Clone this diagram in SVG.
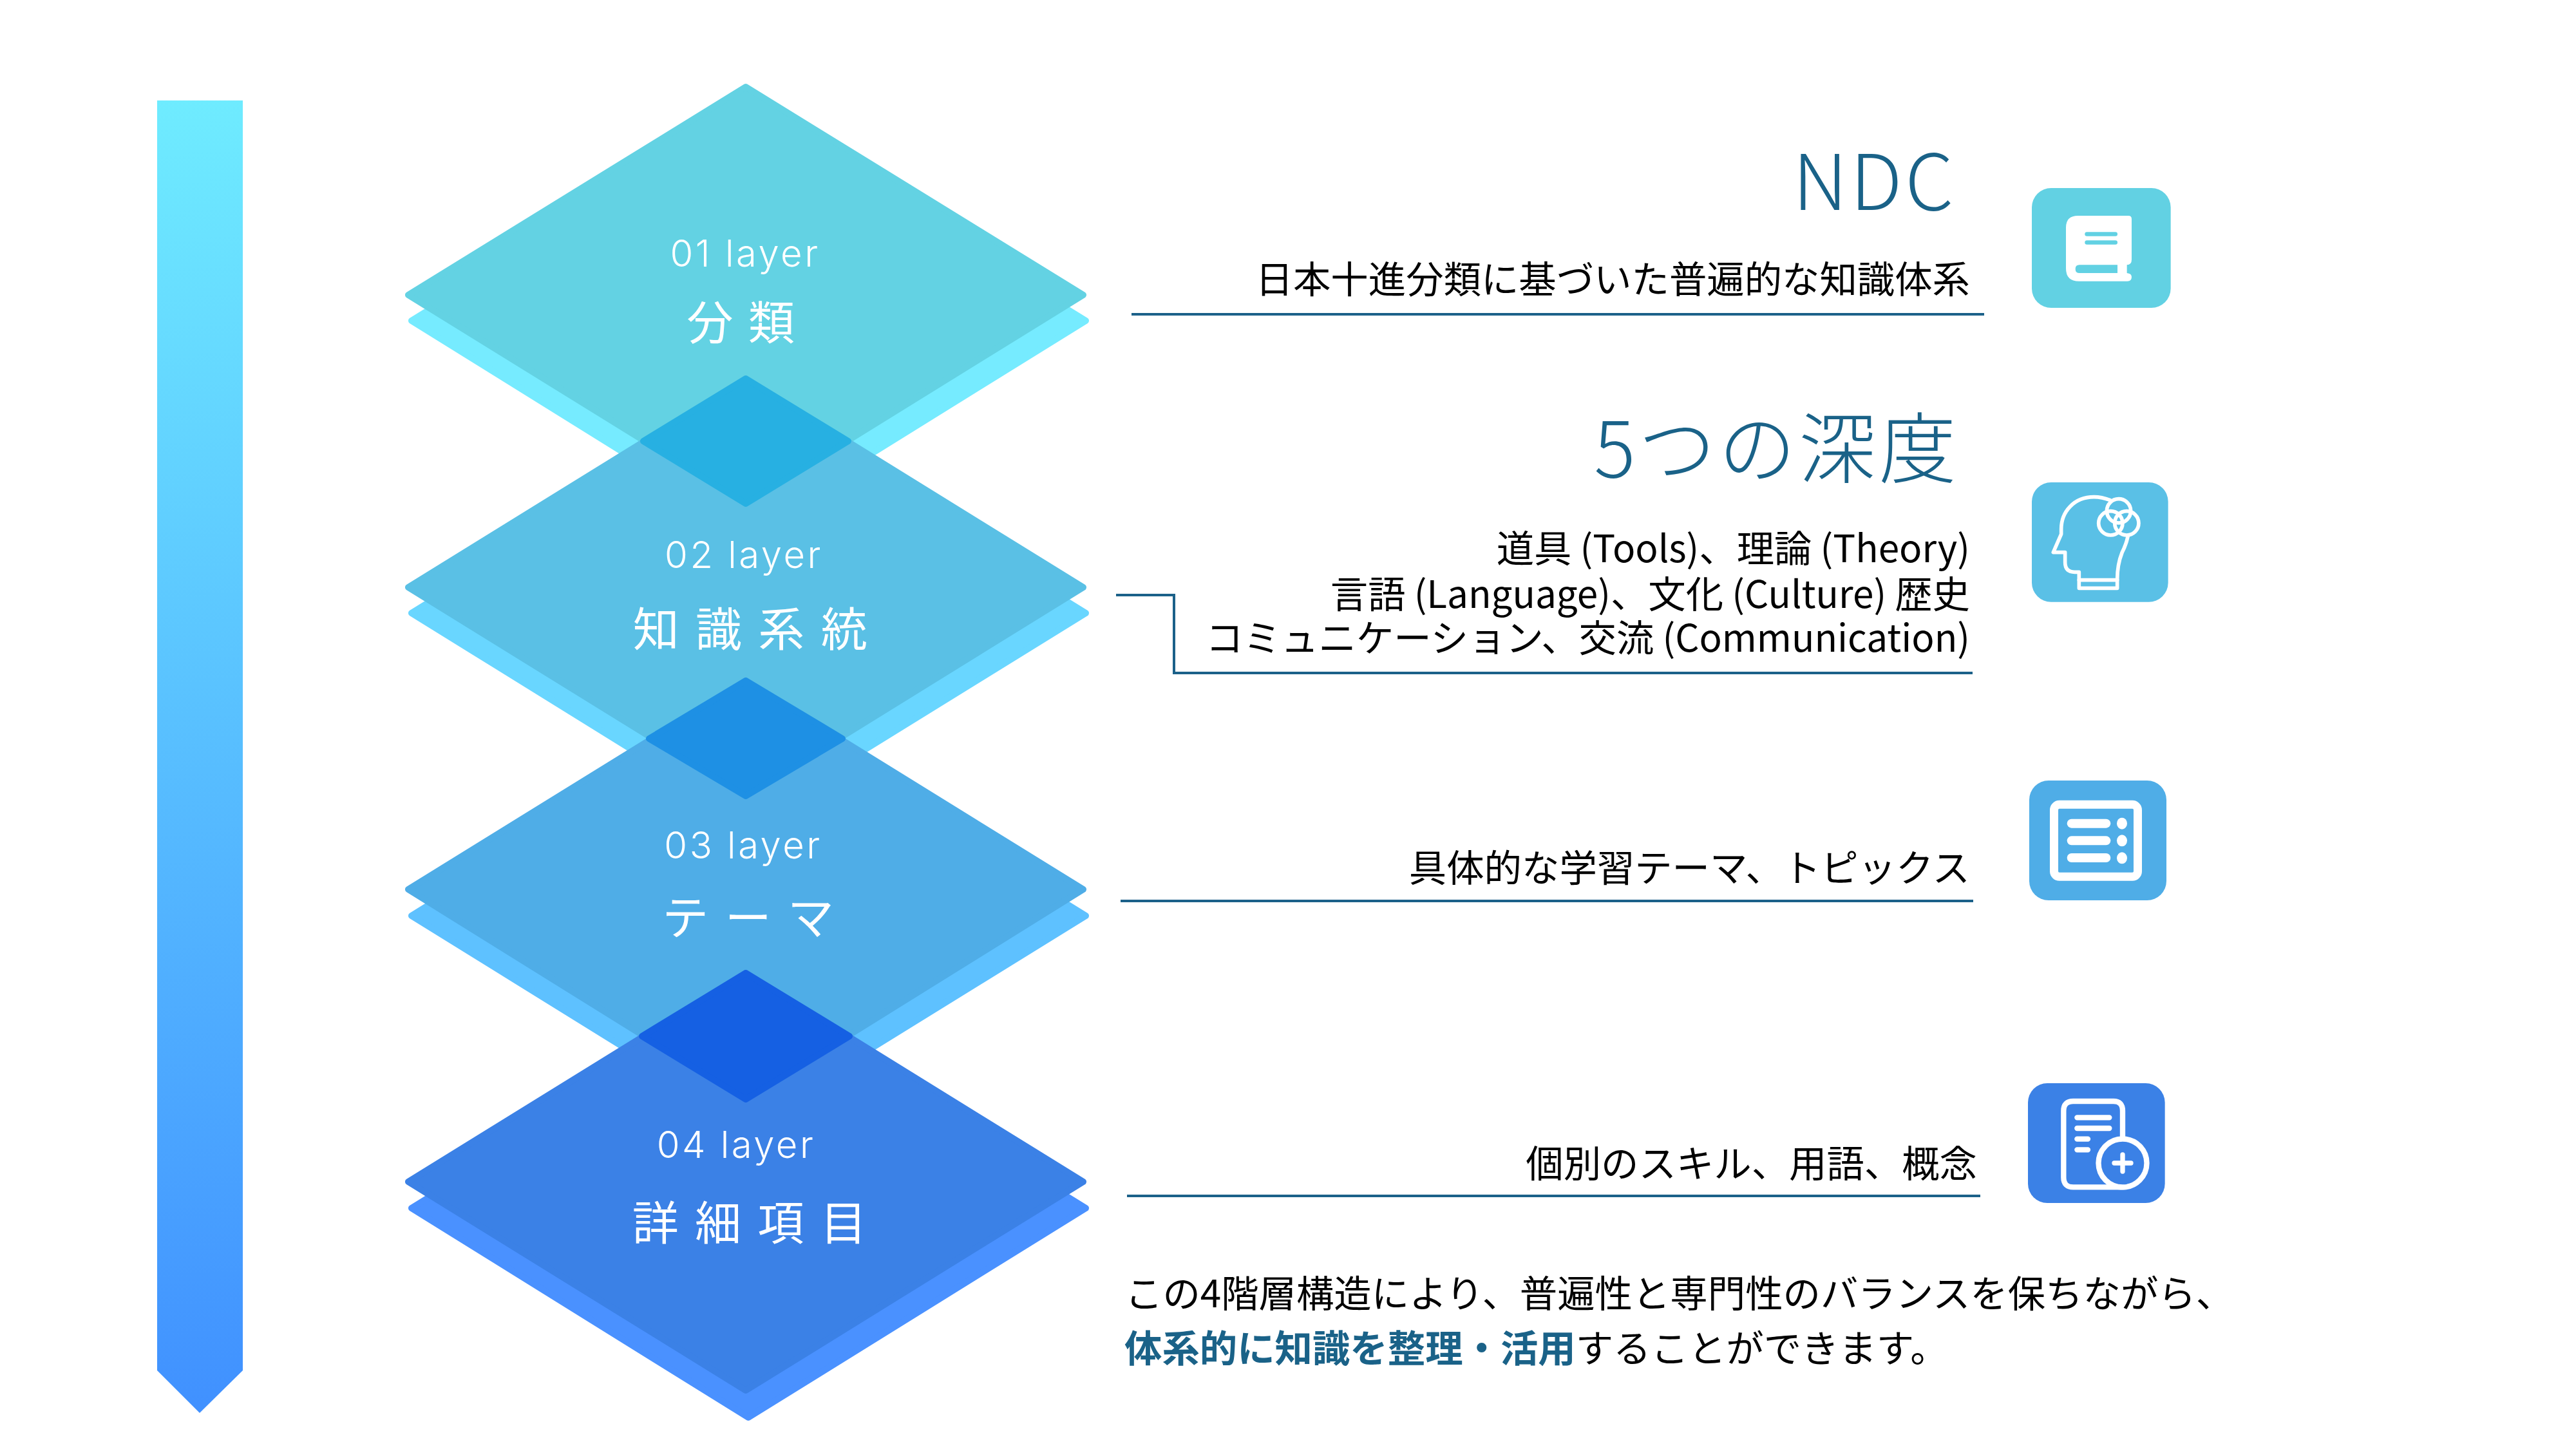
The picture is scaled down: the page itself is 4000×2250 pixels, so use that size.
<svg xmlns="http://www.w3.org/2000/svg" width="4000" height="2250" viewBox="0 0 4000 2250">
<style>
text{font-family:"Noto Sans CJK JP","Noto Sans",sans-serif}
.lay{font-family:Inter,"Noto Sans",sans-serif;font-weight:300;font-size:58px;fill:#fff;text-anchor:middle;letter-spacing:3.500px}
.nm{font-size:72px;fill:#fff;text-anchor:middle;font-weight:400}
.ttl{font-size:120px;fill:#1A6288;text-anchor:end;font-weight:300;letter-spacing:4.500px}
.sub{font-size:58.400px;fill:#000;text-anchor:end;font-weight:400}
.par{font-size:58.400px;fill:#000}
.hl{fill:#1A6288;font-weight:700}
.ln{fill:none;stroke:#1C6189;stroke-width:4}
.dm{stroke-width:10;stroke-linejoin:round}
.w{fill:#fff}
.st{fill:none;stroke:#fff;stroke-linecap:round;stroke-linejoin:round}
</style>
<defs>
<linearGradient id="ag" gradientUnits="userSpaceOnUse" x1="200" y1="156" x2="420" y2="2194">
<stop offset="0" stop-color="#6FECFF"/><stop offset="1" stop-color="#4090FF"/>
</linearGradient>
</defs>
<g id="depth-arrow"><polygon points="244,156 377,156 377,2128 310,2194 244,2128" fill="url(#ag)"/></g>
<g id="layer-shadows">
<polygon class="dm" fill="#76EBFF" stroke="#76EBFF" points="1162,175 1686,498 1162,823 639,498"/>
<polygon class="dm" fill="#69D6FF" stroke="#69D6FF" points="1162,628 1686,952 1162,1276 639,952"/>
<polygon class="dm" fill="#5EC1FF" stroke="#5EC1FF" points="1162,1097 1686,1422 1162,1746 639,1422"/>
<polygon class="dm" fill="#4A91FF" stroke="#4A91FF" points="1162,1552 1686,1876 1162,2201 639,1876"/>
</g>
<g id="layer-01">
<polygon class="dm" fill="#63D2E3" stroke="#63D2E3" points="1158,135 1682,458 1158,782 634,458"/>
<text class="lay" x="1157" y="414">01 layer</text>
<text class="nm" x="1152" y="527" letter-spacing="3.6">分 類</text>
</g>
<g id="layer-02">
<polygon class="dm" fill="#5AC0E5" stroke="#5AC0E5" points="1158,588 1682,912 1158,1236 634,912"/>
<text class="lay" x="1155" y="882">02 layer</text>
<text class="nm" x="1167" y="1003" letter-spacing="4.6">知 識 系 統</text>
</g>
<g id="layer-03">
<polygon class="dm" fill="#4FADE7" stroke="#4FADE7" points="1158,1057 1682,1381 1158,1707 634,1381"/>
<text class="lay" x="1154" y="1333">03 layer</text>
<text class="nm" x="1164" y="1451" letter-spacing="4.6">テ ー マ</text>
</g>
<g id="layer-04">
<polygon class="dm" fill="#3B81E6" stroke="#3B81E6" points="1158,1511 1682,1835 1158,2159 634,1835"/>
<text class="lay" x="1143" y="1798">04 layer</text>
<text class="nm" x="1166" y="1925" letter-spacing="4.6">詳 細 項 目</text>
</g>
<g id="overlaps">
<polygon class="dm" fill="#27B0E2" stroke="#27B0E2" points="1158,588 1317,685 1158,782 999,685"/>
<polygon class="dm" fill="#1E90E4" stroke="#1E90E4" points="1158,1057 1308,1147 1158,1236 1008,1147"/>
<polygon class="dm" fill="#1560E3" stroke="#1560E3" points="1158,1511 1319,1609 1158,1707 997,1609"/>
</g>
<g id="connectors">
<line class="ln" x1="1757" y1="488" x2="3081" y2="488"/>
<polyline class="ln" points="1733,924 1823,924 1823,1045 3063,1045"/>
<line class="ln" x1="1740" y1="1399" x2="3064" y2="1399"/>
<line class="ln" x1="1750" y1="1857" x2="3075" y2="1857"/>
</g>
<g id="desc-01">
<text class="ttl" x="3038" y="326">NDC</text>
<text class="sub" x="3059" y="455">日本十進分類に基づいた普遍的な知識体系</text>
</g>
<g id="desc-02">
<text class="ttl" x="3042" y="741">5つの深度</text>
<text class="sub" x="3059" y="873">道具 (Tools)、理論 (Theory)</text>
<text class="sub" x="3059" y="944">言語 (Language)、文化 (Culture) 歴史</text>
<text class="sub" x="3059" y="1012">コミュニケーション、交流 (Communication)</text>
</g>
<g id="desc-03"><text class="sub" x="3059" y="1369">具体的な学習テーマ、トピックス</text></g>
<g id="desc-04"><text class="sub" x="3070" y="1828">個別のスキル、用語、概念</text></g>
<g id="summary">
<text class="par" x="1747" y="2030">この4階層構造により、普遍性と専門性のバランスを保ちながら、</text>
<text class="par" x="1746" y="2115"><tspan class="hl">体系的に知識を整理・活用</tspan>することができます。</text>
</g>
<g id="icon-book" transform="translate(3120 270) scale(.33333)">
<rect x="105" y="66" width="647" height="558" rx="90" fill="#62D1E3"/>
<path class="w" d="M320,195H555Q570,195 570,210V400Q570,424 548,424V462Q570,464 570,480Q570,500 550,500H325Q264,500 264,440V250Q264,195 320,195Z"/>
<path fill="#62D1E3" d="M327,424H504V462H327Q308,462 308,443Q308,424 327,424Z"/>
<rect x="352" y="271" width="152" height="19" rx="9.500" fill="#62D1E3"/>
<rect x="352" y="310" width="152" height="19" rx="9.500" fill="#62D1E3"/>
</g>
<g id="icon-head" transform="translate(3120 730) scale(.33333)">
<rect x="105" y="57" width="635" height="557" rx="90" fill="#5AC0E6"/>
<g class="st" stroke-width="17">
<path d="M470,140Q430,125 395,125C300,125 242,195 242,275V298L205,383H260V430Q260,475 305,475H325V550H503V510Q503,440 525,385Q545,345 552,310"/>
<path d="M325,512H503"/>
<circle cx="510" cy="190" r="56"/><circle cx="472" cy="247" r="56"/><circle cx="547" cy="247" r="56"/>
</g>
</g>
<g id="icon-list" transform="translate(3120 1190) scale(.33333)">
<rect x="93" y="66" width="639" height="558" rx="90" fill="#4FADE7"/>
<rect x="208.500" y="178" width="390" height="336" rx="25" fill="none" stroke="#fff" stroke-width="39"/>
<rect class="w" x="269" y="245" width="203" height="42" rx="21"/>
<rect class="w" x="269" y="325" width="203" height="42" rx="21"/>
<rect class="w" x="269" y="405" width="203" height="42" rx="21"/>
<ellipse class="w" cx="525" cy="266" rx="24" ry="27"/>
<ellipse class="w" cx="525" cy="346" rx="24" ry="27"/>
<ellipse class="w" cx="525" cy="427" rx="24" ry="27"/>
</g>
<g id="icon-doc" transform="translate(3120 1660) scale(.33333)">
<rect x="87" y="66" width="638" height="558" rx="90" fill="#3B81E6"/>
<g class="st" stroke-width="25">
<path d="M528,320V195Q528,150 485,150H298Q253,150 253,195V505Q253,550 298,550H520"/>
<circle cx="528" cy="438" r="112.500" fill="#3B81E6"/>
<path d="M316,226H466M316,276H466M316,326H366M316,376H366"/>
</g>
<path class="st" stroke-width="22" d="M489,438H567M528,399V477"/>
</g>
</svg>
